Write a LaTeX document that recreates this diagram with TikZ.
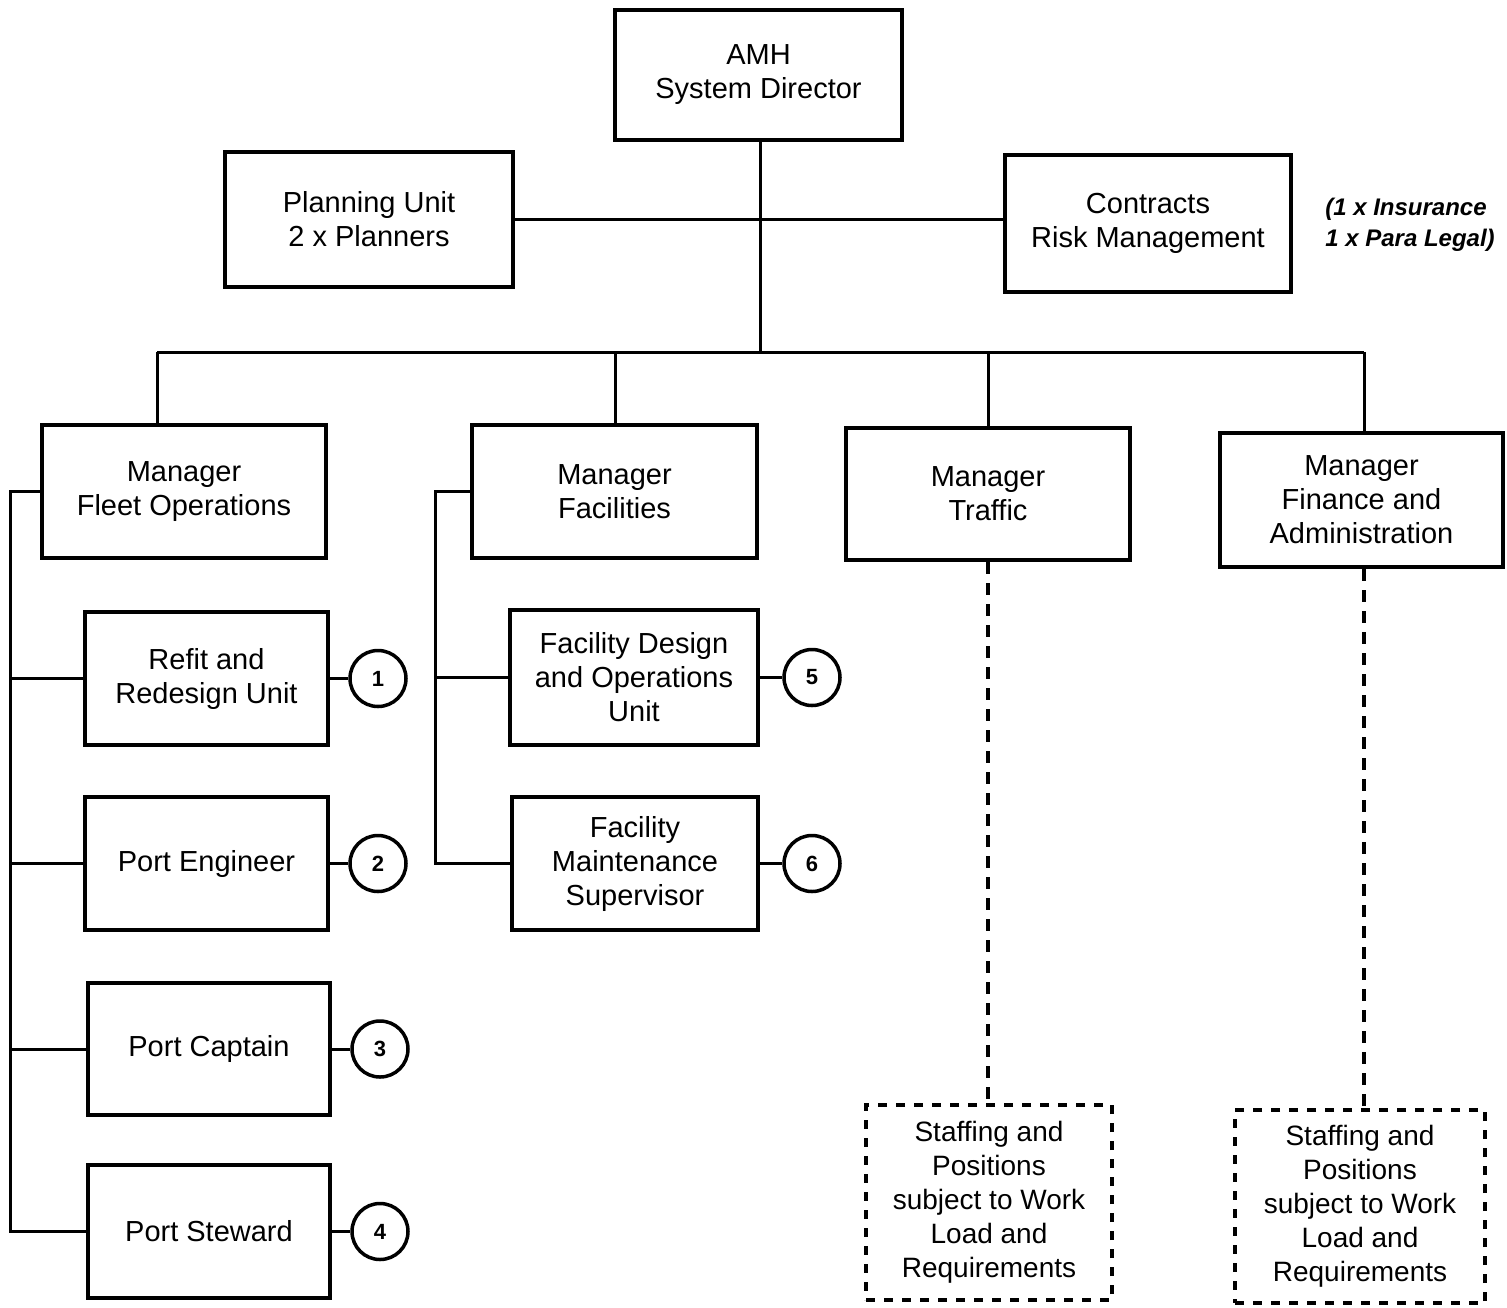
\documentclass[tikz,border=0pt]{standalone}
\usepackage{fontspec}
\setmainfont{Liberation Sans}
\begin{document}
\begin{tikzpicture}[x=1pt,y=-1pt,
  box/.style={draw, line width=4pt, rectangle, align=center, inner sep=2pt,
    font=\fontsize{29}{34}\selectfont},
  dbox/.style={draw, line width=4pt, rectangle, align=center, inner sep=2pt,
    dash pattern=on 9pt off 9pt, font=\fontsize{28}{34}\selectfont},
  num/.style={draw, circle, line width=3.5pt, minimum size=56pt, inner sep=0pt,
    font=\fontsize{22}{22}\selectfont\bfseries},
  conn/.style={line width=3pt},
  dconn/.style={line width=4pt, dash pattern=on 12pt off 9pt},
  note/.style={align=left, font=\fontsize{24}{31}\selectfont\bfseries\itshape}
]
\useasboundingbox (0,0) rectangle (1507,1307);

% top level
\node[box, minimum width=287pt, minimum height=130pt] (dir) at (758.5,75) {AMH\\System Director};
\node[box, minimum width=288pt, minimum height=135pt] (plan) at (369,219.5) {Planning Unit\\2 x Planners};
\node[box, minimum width=286pt, minimum height=137pt] (contr) at (1148,223.5) {Contracts\\Risk Management};
\node[note] (nt) at (1410,225) {(1 x Insurance\\1 x Para Legal)};

% managers
\node[box, minimum width=284pt, minimum height=133pt] (fleet) at (184,491.5) {Manager\\Fleet Operations};
\node[box, minimum width=285pt, minimum height=133pt] (fac) at (614.5,491.5) {Manager\\Facilities};
\node[box, minimum width=284pt, minimum height=132pt] (traf) at (988,494) {Manager\\Traffic};
\node[box, minimum width=283pt, minimum height=134pt] (fin) at (1361.5,500) {Manager\\Finance and\\Administration};

% fleet units
\node[box, minimum width=243pt, minimum height=133pt] (refit) at (206.5,678.5) {Refit and\\Redesign Unit};
\node[box, minimum width=243pt, minimum height=133pt] (peng) at (206.5,863.5) {Port Engineer};
\node[box, minimum width=242pt, minimum height=132pt] (pcap) at (209,1049) {Port Captain};
\node[box, minimum width=242pt, minimum height=133pt] (pstew) at (209,1231.5) {Port Steward};

% facilities units
\node[box, minimum width=248pt, minimum height=135pt] (fdes) at (634,677.5) {Facility Design\\and Operations\\Unit};
\node[box, minimum width=246pt, minimum height=133pt] (fmnt) at (635,863.5) {Facility\\Maintenance\\Supervisor};

% numbered circles
\node[num] (c1) at (378,678.5) {1};
\node[num] (c2) at (378,863.5) {2};
\node[num] (c3) at (380,1049) {3};
\node[num] (c4) at (380,1231.5) {4};
\node[num] (c5) at (812,677.5) {5};
\node[num] (c6) at (812,863.5) {6};

% staffing boxes
\node[dbox, minimum width=246pt, minimum height=195pt] (st1) at (989,1202.5) {Staffing and\\Positions\\subject to Work\\Load and\\Requirements};
\node[dbox, minimum width=250pt, minimum height=193pt] (st2) at (1360,1206.5) {Staffing and\\Positions\\subject to Work\\Load and\\Requirements};

% coordinates
\coordinate (hub) at (760,352);
\coordinate (b1) at (157,352);
\coordinate (b2) at (615,352);
\coordinate (b3) at (988,352);
\coordinate (b4) at (1364,352);

% connectors top
\draw[conn] (dir.south -| hub) -- (hub);
\draw[conn] (plan.east) -- (plan.east -| contr.west);
\draw[conn] (b1) -- (b4);
\draw[conn] (b1) -- (b1 |- fleet.north);
\draw[conn] (b2) -- (b2 |- fac.north);
\draw[conn] (b3) -- (b3 |- traf.north);
\draw[conn] (b4) -- (b4 |- fin.north);

% fleet spine
\coordinate (fs) at (10,491.5);
\draw[conn] (fleet.west) -- (fs) -- (fs |- pstew.west) -- (pstew.west);
\draw[conn] (fs |- refit.west) -- (refit.west);
\draw[conn] (fs |- peng.west) -- (peng.west);
\draw[conn] (fs |- pcap.west) -- (pcap.west);

% facilities spine
\coordinate (ffs) at (435,491.5);
\draw[conn] (fac.west) -- (ffs) -- (ffs |- fmnt.west) -- (fmnt.west);
\draw[conn] (ffs |- fdes.west) -- (fdes.west);

% circles
\draw[conn] (refit.east) -- (c1);
\draw[conn] (peng.east) -- (c2);
\draw[conn] (pcap.east) -- (c3);
\draw[conn] (pstew.east) -- (c4);
\draw[conn] (fdes.east) -- (c5);
\draw[conn] (fmnt.east) -- (c6);

% dashed connectors
\draw[dconn] (traf.south) -- (traf.south |- st1.north);
\draw[dconn] (fin.south -| b4) -- (b4 |- st2.north);
\end{tikzpicture}
\end{document}
